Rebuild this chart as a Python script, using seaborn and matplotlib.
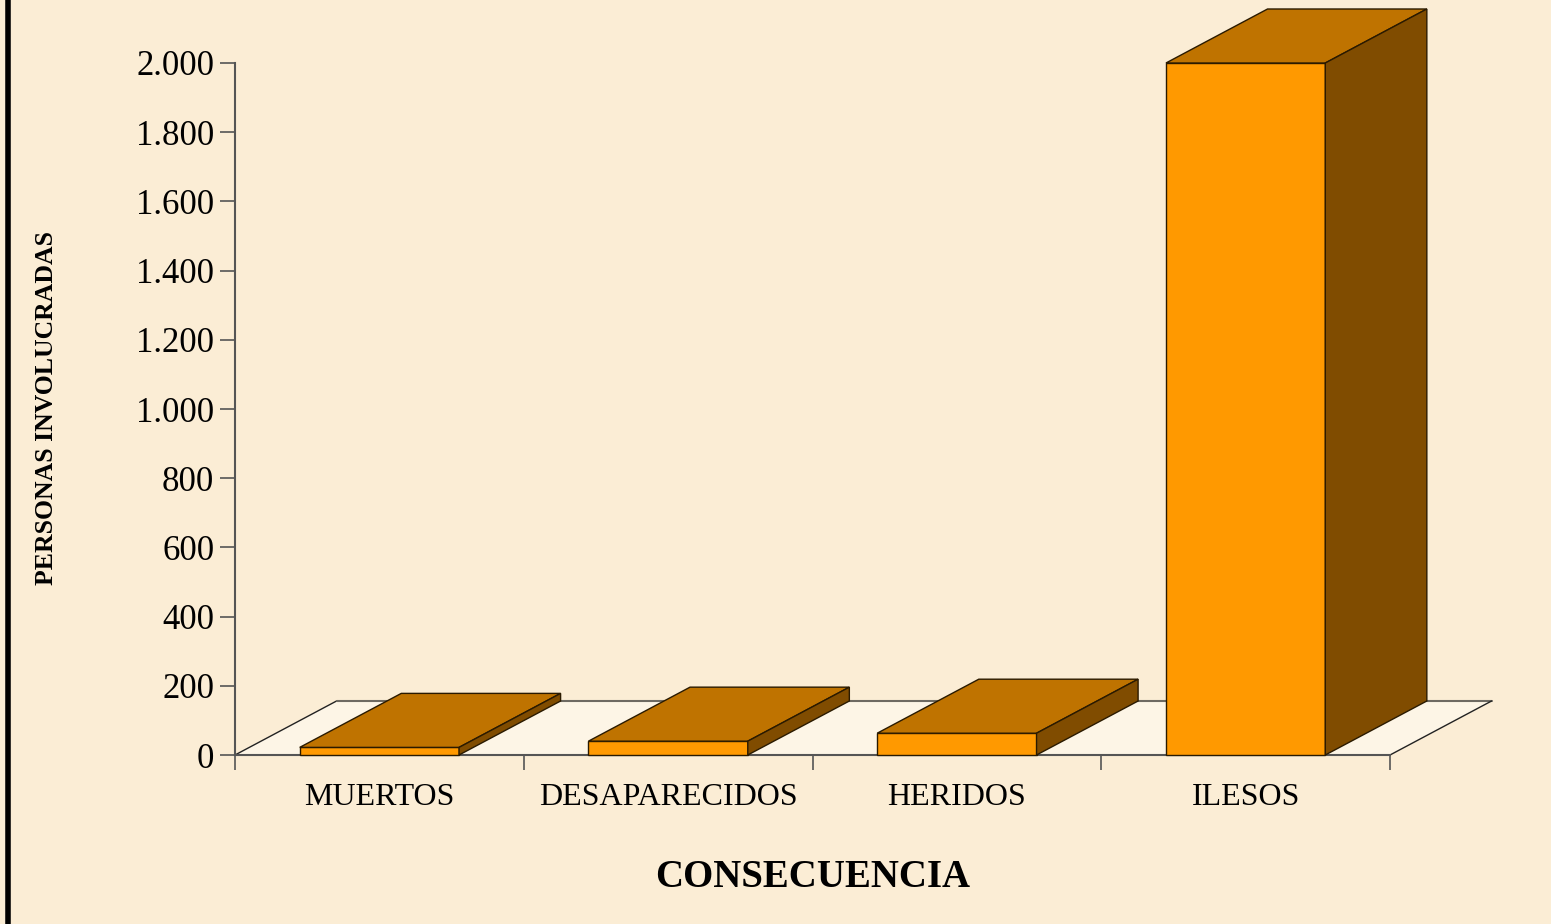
import numpy as np
import pandas as pd
import matplotlib.pyplot as plt
import seaborn as sns
from matplotlib.patches import Polygon
from matplotlib.lines import Line2D

# Data
categorias = ["MUERTOS", "DESAPARECIDOS", "HERIDOS", "ILESOS"]
personas = [22, 40, 63, 2000]
y_ticks = [0, 200, 400, 600, 800, 1000, 1200, 1400, 1600, 1800, 2000]
y_tick_labels = ["0", "200", "400", "600", "800", "1.000", "1.200", "1.400", "1.600", "1.800", "2.000"]

df = pd.DataFrame({"consecuencia": categorias, "personas": personas})

bg = "#FBEDD5"
front = "#FF9900"
top = "#BF7300"
side = "#804C00"
edge = "#2A1A00"

sns.set_style("white")
plt.rcParams["font.family"] = ["Liberation Serif", "DejaVu Serif"]
plt.rcParams["text.color"] = "black"
plt.rcParams["axes.labelcolor"] = "black"
plt.rcParams["xtick.color"] = "black"
plt.rcParams["ytick.color"] = "black"

fig = plt.figure(figsize=(15.51, 9.24), dpi=100)
fig.patch.set_facecolor(bg)
ax = fig.add_axes([235 / 1551, (924 - 755) / 924, (1390 - 235) / 1551, (755 - 63) / 924])
ax.set_facecolor("none")

# depth of the pseudo-3D effect (category units / value units)
dx = 102 / 290
dy = 54 / (692 / 2000)
bw = 160 / 290

ax.set_xlim(-0.5, 3.5)
ax.set_ylim(0, 2000)

# floor
floor = Polygon([(-0.5, 0), (3.5, 0), (3.5 + dx, dy), (-0.5 + dx, dy)],
                closed=True, facecolor="#FDF5E6", edgecolor="none", clip_on=False, zorder=1)
ax.add_patch(floor)
ax.add_line(Line2D([-0.5, -0.5 + dx], [0, dy], color="#222222", lw=1.0, clip_on=False, zorder=1.5))
ax.add_line(Line2D([-0.5 + dx, 3.5 + dx], [dy, dy], color="#6E6A62", lw=1.5, clip_on=False, zorder=1.5))
ax.add_line(Line2D([3.5, 3.5 + dx], [0, dy], color="#222222", lw=1.0, clip_on=False, zorder=1.5))

sns.barplot(data=df, x="consecuencia", y="personas", color=front, width=bw,
            edgecolor=edge, linewidth=1.0, saturation=1, ax=ax, zorder=3)

for p in list(ax.patches):
    if p is floor:
        continue
    x0 = p.get_x()
    w = p.get_width()
    h = p.get_height()
    p.set_clip_on(False)
    ax.add_patch(Polygon([(x0, h), (x0 + w, h), (x0 + w + dx, h + dy), (x0 + dx, h + dy)],
                         closed=True, facecolor=top, edgecolor=edge, lw=1.0, clip_on=False, zorder=3))
    ax.add_patch(Polygon([(x0 + w, 0), (x0 + w + dx, dy), (x0 + w + dx, h + dy), (x0 + w, h)],
                         closed=True, facecolor=side, edgecolor=edge, lw=1.0, clip_on=False, zorder=3))

ax.set_yticks(y_ticks)
ax.set_yticklabels(y_tick_labels, fontsize=25)
ax.set_xticks(np.arange(len(categorias) + 1) - 0.5, minor=False)
ax.set_xticklabels([])
ax.set_xticks(np.arange(len(categorias)), minor=True)
ax.set_xticklabels(categorias, minor=True, fontsize=23)
ax.tick_params(axis="x", which="minor", length=0, pad=20)
ax.tick_params(axis="x", which="major", length=11, width=1.2, color="#555555", direction="out", bottom=True)
ax.tick_params(axis="y", length=11, width=1.2, color="#555555", direction="out", left=True, pad=4)

for s in ["top", "right"]:
    ax.spines[s].set_visible(False)
for s in ["left", "bottom"]:
    ax.spines[s].set_color("#555555")
    ax.spines[s].set_linewidth(1.5)
    ax.spines[s].set_zorder(2)

ax.set_xlabel("CONSECUENCIA", fontsize=28, fontweight="bold", labelpad=34)
ax.set_ylabel("")
fig.text(47 / 1551, 1 - 408 / 924, "PERSONAS INVOLUCRADAS", rotation=90, fontsize=18.5,
         fontweight="bold", ha="center", va="center")

# left border
fig.add_artist(Line2D([7.5 / 1551, 7.5 / 1551], [0, 1], color="black", lw=4, transform=fig.transFigure))

fig.savefig("out.png", dpi=100, facecolor=bg)
